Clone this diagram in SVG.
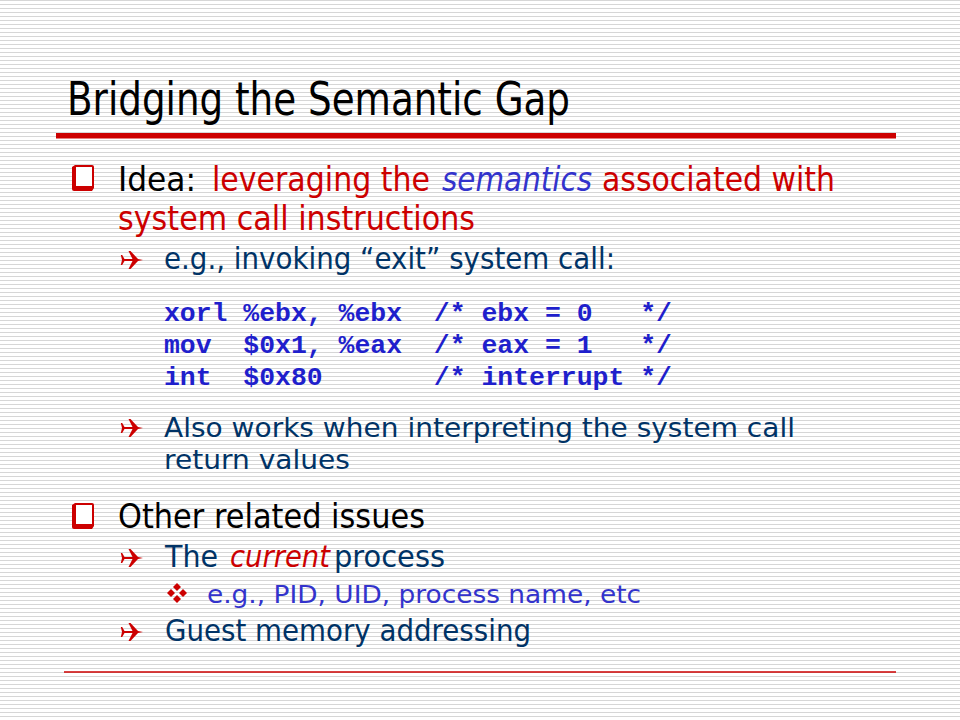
<svg xmlns="http://www.w3.org/2000/svg" width="960" height="720" viewBox="0 0 960 720">
  <defs>
    <pattern id="stripes" x="0" y="0" width="8" height="4" patternUnits="userSpaceOnUse">
      <rect x="0" y="0" width="8" height="4" fill="#ffffff"/>
      <rect x="0" y="0" width="8" height="1" fill="#d6d6d6"/>
    </pattern>
    <g id="checkbox">
      <path d="M72,167 L75,165 L92,165 Q94,165 94,167 L94,188 L92,191 L74,191 Q72,191 72,189 Z" fill="#cc0000"/>
      <rect x="76" y="167" width="16" height="19" fill="#ffffff"/>
    </g>
    <polygon id="plane" fill="#cc0000" points="11,0 6,-1 -1.5,-9 -3.5,-9 0.5,-1 -7.5,-1 -9.8,-5 -11.2,-5 -10,0 -11.2,5 -9.8,5 -7.5,1 0.5,1 -3.5,9 -1.5,9 6,1"/>
    <g id="diamonds" fill="#cc0000">
      <polygon points="0,-10 4,-6 0,-2 -4,-6"/>
      <polygon points="-10,0 -6,-4 -2,0 -6,4"/>
      <polygon points="10,0 6,-4 2,0 6,4"/>
      <polygon points="0,10 4,6 0,2 -4,6"/>
    </g>
  </defs>
  <style>
    .t { font-family: "DejaVu Sans", "Verdana", sans-serif; }
    .title { font-size: 46px; fill: #000000; }
    .l1 { font-size: 34px; }
    .l2 { font-size: 30px; fill: #003366; }
    .l2s { font-size: 27px; fill: #003366; }
    .l3 { font-size: 24px; fill: #3333cc; }
    .blk { fill: #000000; }
    .red { fill: #cc0000; }
    .blue { fill: #3333cc; }
    .it { font-style: italic; }
    .code { font-family: "Liberation Mono", "Courier New", monospace; font-weight: bold; font-size: 26.46px; fill: #1f1fcc; }
  </style>

  <rect x="0" y="0" width="960" height="720" fill="url(#stripes)"/>

  <g id="title">
    <text class="t title" x="67" y="115" textLength="503" lengthAdjust="spacingAndGlyphs">Bridging the Semantic Gap</text>
    <rect x="56" y="133" width="840" height="5.5" fill="#cc0000"/>
  </g>

  <g id="bullet-idea">
    <use href="#checkbox"/>
    <text class="t l1 blk" x="118" y="191" textLength="78" lengthAdjust="spacingAndGlyphs">Idea:</text>
    <text class="t l1 red" x="212" y="191" textLength="218" lengthAdjust="spacingAndGlyphs">leveraging the</text>
    <text class="t l1 blue it" x="442" y="191" textLength="150" lengthAdjust="spacingAndGlyphs">semantics</text>
    <text class="t l1 red" x="602" y="191" textLength="233" lengthAdjust="spacingAndGlyphs">associated with</text>
    <text class="t l1 red" x="118" y="230" textLength="357" lengthAdjust="spacingAndGlyphs">system call instructions</text>
  </g>

  <g id="sub-exit">
    <use href="#plane" transform="translate(132,260)"/>
    <text class="t l2" x="164" y="269" textLength="451" lengthAdjust="spacingAndGlyphs">e.g., invoking “exit” system call:</text>
  </g>

  <g id="code">
    <text class="code" x="164" y="321" xml:space="preserve">xorl %ebx, %ebx  /* ebx = 0   */</text>
    <text class="code" x="164" y="353" xml:space="preserve">mov  $0x1, %eax  /* eax = 1   */</text>
    <text class="code" x="164" y="385" xml:space="preserve">int  $0x80       /* interrupt */</text>
  </g>

  <g id="sub-return">
    <use href="#plane" transform="translate(132,428)"/>
    <text class="t l2s" x="164" y="437" textLength="631" lengthAdjust="spacingAndGlyphs">Also works when interpreting the system call</text>
    <text class="t l2s" x="164" y="469" textLength="186" lengthAdjust="spacingAndGlyphs">return values</text>
  </g>

  <g id="bullet-other">
    <use href="#checkbox" transform="translate(0,338)"/>
    <text class="t l1 blk" x="118" y="528" textLength="307" lengthAdjust="spacingAndGlyphs">Other related issues</text>
  </g>

  <g id="sub-current">
    <use href="#plane" transform="translate(132,558)"/>
    <text class="t l2" x="165" y="567" textLength="53" lengthAdjust="spacingAndGlyphs">The</text>
    <text class="t l2 red it" x="230" y="567" textLength="100" lengthAdjust="spacingAndGlyphs">current</text>
    <text class="t l2" x="334" y="567" textLength="111" lengthAdjust="spacingAndGlyphs">process</text>
  </g>

  <g id="subsub-pid">
    <use href="#diamonds" transform="translate(177,593)"/>
    <text class="t l3" x="207" y="603" textLength="434" lengthAdjust="spacingAndGlyphs">e.g., PID, UID, process name, etc</text>
  </g>

  <g id="sub-memory">
    <use href="#plane" transform="translate(132,632)"/>
    <text class="t l2" x="165" y="641" textLength="366" lengthAdjust="spacingAndGlyphs">Guest memory addressing</text>
  </g>

  <g id="footer">
    <line x1="64" y1="672" x2="896" y2="672" stroke="#cc0000" stroke-width="1.5"/>
  </g>
</svg>
